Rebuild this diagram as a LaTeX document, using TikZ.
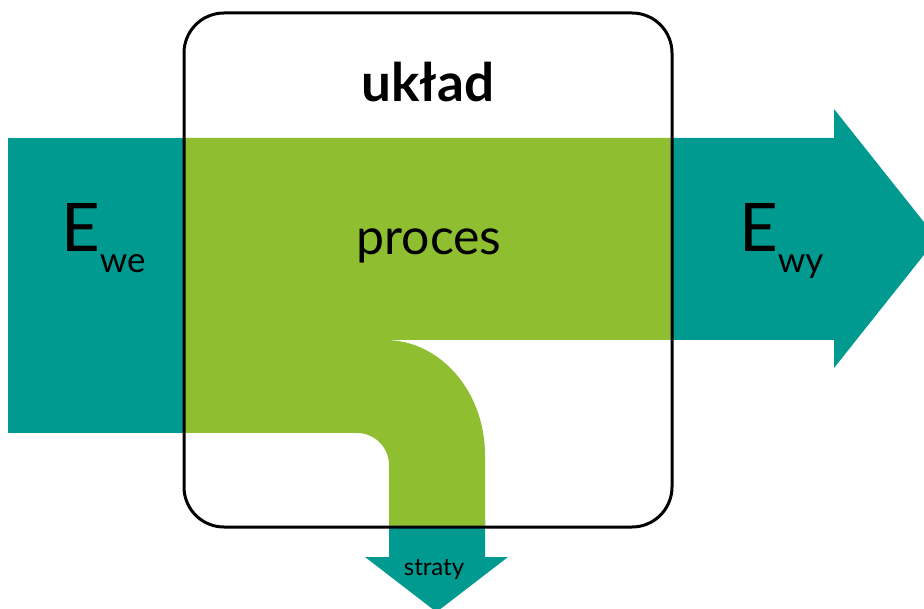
\documentclass[tikz,border=0pt]{standalone}
\usepackage{fontspec}
\setmainfont{Lato}
\definecolor{tealflow}{RGB}{0,154,145}
\definecolor{greenflow}{RGB}{143,190,48}
\tikzset{
  flow/.style={fill=tealflow, draw=none},
  core/.style={fill=greenflow, draw=none},
  sysbox/.style={draw=black, line width=3pt, rounded corners=40pt},
  lbl/.style={inner sep=0pt, text=black}
}
\begin{document}
\begin{tikzpicture}[x=1pt, y=-1pt]
  \useasboundingbox (0,0) rectangle (924,609);
  \clip (0,0) rectangle (924,609);
  % incoming energy
  \path[flow] (8,138) rectangle (184,433);
  % outgoing energy arrow
  \path[flow] (672,138) -- (834,138) -- (834,109) -- (937,238.5)
              -- (834,368) -- (834,340) -- (672,340) -- cycle;
  % losses arrow
  \path[flow] (389,520) -- (485,520) -- (485,557) -- (508,557)
              -- (436.5,612) -- (365,557) -- (389,557) -- cycle;
  % process band with the bend towards the losses
  \path[core] (184,138) -- (672,138) -- (672,340) -- (385,340)
              arc[start angle=-90, end angle=0, x radius=100, y radius=115]
              -- (485,527) -- (389,527) -- (389,465)
              arc[start angle=0, end angle=-90, radius=32]
              -- (184,433) -- cycle;
  % system boundary
  \draw[sysbox] (184,13) rectangle (672,527);
  % labels
  \node[lbl, anchor=base] (uklad) at (428,102) {\fontsize{53}{53}\selectfont\bfseries układ};
  \node[lbl, anchor=base] (proces) at (429,255) {\fontsize{50}{50}\selectfont proces};
  \node[lbl, anchor=base west] (ewe) at (61,252)
    {\fontsize{67}{67}\selectfont E\raisebox{-21pt}{\fontsize{35}{35}\selectfont we}};
  \node[lbl, anchor=base west] (ewy) at (739,252)
    {\fontsize{67}{67}\selectfont E\raisebox{-21pt}{\fontsize{35}{35}\selectfont wy}};
  \node[lbl, anchor=base] (straty) at (434,575) {\fontsize{24}{24}\selectfont straty};
\end{tikzpicture}
\end{document}
